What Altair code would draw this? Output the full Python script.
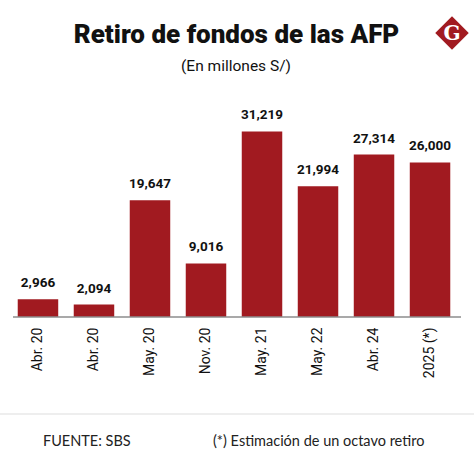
import json
import altair as alt
import pandas as pd

# ---- data ----
categories = ["Abr. 20", "Abr. 20", "May. 20", "Nov. 20", "May. 21", "May. 22", "Abr. 24", "2025 (*)"]
values = [2966, 2094, 19647, 9016, 31219, 21994, 27314, 26000]
title_text = "Retiro de fondos de las AFP"
subtitle_text = "(En millones S/)"
source_text = "FUENTE: SBS"
note_text = "(*) Estimación de un octavo retiro"
logo_text = "G"

RED = "#a11a20"
W, H = 448, 217

df = pd.DataFrame({"idx": list(range(len(categories))), "cat": categories, "value": values})
label_expr = json.dumps(categories) + "[datum.value]"

x_enc = alt.X(
    "idx:O",
    scale=alt.Scale(paddingInner=0.277, paddingOuter=0.138),
    axis=alt.Axis(
        title=None, labelExpr=label_expr, labelAngle=-90, labelAlign="right",
        labelBaseline="middle", labelFontSize=14, labelFont="Roboto",
        labelColor="#111", labelPadding=10, ticks=False, domain=False,
    ),
)
y_enc = alt.Y("value:Q", scale=alt.Scale(domain=[0, 36500]), axis=None)

base = alt.Chart(df)
bars = base.mark_bar(color=RED).encode(x=x_enc, y=y_enc)
labels = base.mark_text(
    font="Roboto", fontSize=13.5, fontWeight="bold", color="#111",
    baseline="alphabetic", dy=-12,
).encode(x=x_enc, y=y_enc, text=alt.Text("value:Q", format=","))

axis_line = alt.Chart(pd.DataFrame({"a": [0]})).mark_rule(color="#8c8c8c", strokeWidth=1.5).encode(
    x=alt.value(3), x2=alt.value(451), y=alt.value(H)
)
sep_line = alt.Chart(pd.DataFrame({"a": [0]})).mark_rule(color="#dddddd", strokeWidth=1).encode(
    x=alt.value(-10), x2=alt.value(464), y=alt.value(314)
)

def txt(s, x, y, size, weight="normal", align="center", color="#111", font="Roboto"):
    return alt.Chart(pd.DataFrame({"t": [s]})).mark_text(
        font=font, fontSize=size, fontWeight=weight, align=align,
        baseline="alphabetic", color=color,
    ).encode(text="t:N", x=alt.value(x), y=alt.value(y))

title = txt(title_text, 226.5, -57, 26, weight=900)
subtitle = txt(subtitle_text, 226, -29, 15.5)
source = txt(source_text, 33, 346, 14.5, align="left", color="#222", font="Lato")
note = txt(note_text, 203, 346, 14.5, align="left", color="#222", font="Lato")

logo_bg = alt.Chart(pd.DataFrame({"a": [0]})).mark_point(
    shape="square", filled=True, color=RED, opacity=1, angle=45, size=560
).encode(x=alt.value(442), y=alt.value(-67))
logo_g = txt(logo_text, 442, -60, 20, weight="bold", color="white", font="DejaVu Serif")

chart = alt.layer(
    bars, labels, axis_line, sep_line, title, subtitle, source, note, logo_bg, logo_g
).properties(
    width=W, height=H,
    autosize=alt.AutoSizeParams(type="none"),
    padding={"left": 10, "top": 100, "right": 16, "bottom": 153},
    background="white",
).configure_view(stroke=None)

chart.save("out.html", embed_options={"renderer": "svg", "actions": False})
